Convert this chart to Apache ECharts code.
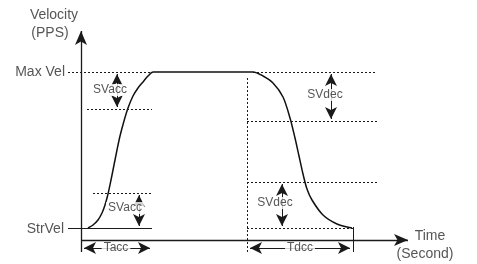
<!DOCTYPE html>
<html>
<head>
<meta charset="utf-8">
<style>
  html, body { margin: 0; padding: 0; background: #fff; }
  #chart { width: 477px; height: 264px; }
</style>
<script src="https://cdn.jsdelivr.net/npm/echarts@6/dist/echarts.min.js"></script>
</head>
<body>
<div id="chart"></div>
<script>
// time axis (t) and velocity axis (v) in diagram units
const strVel = 12
const maxVel = 168
const svAccHigh = 131
const svAccLow = 47
const svDecHigh = 119
const svDecLow = 58
const tAccEnd = 71
const tDecStart = 166
const tDecEnd = 272

// S-curve: acceleration, plateau, deceleration
const accelCurve = [
  [7, 12], [12, 15], [17, 20], [21, 27], [24, 35], [27, 46], [30, 60],
  [33, 75], [36, 90], [39, 104], [43, 119], [47, 132], [52, 144],
  [57, 152], [62, 158], [67, 164], [72, 168]
]
const decelCurve = [
  [172, 168], [182, 164], [192, 157], [202, 143], [209, 122], [214, 102],
  [218, 84], [222, 66], [226, 51], [231, 40], [242, 25], [256, 16], [271, 12]
]

// text labels: [t, v, text]
const labelTexts = [
  [-27, 225, 'Velocity'], [-31, 207, '(PPS)'],
  [-14, 168, 'Max Vel'], [-15, 11, 'StrVel'],
  [29, 150, 'SVacc'], [44, 32, 'SVacc'], [35, -8, 'Tacc'],
  [244, 145, 'SVdec'], [194, 37, 'SVdec'], [219, -8, 'Tdcc'],
  [349, 4, 'Time'], [344, -14, '(Second)']
]

const ink = '#1a1a1a'
const font = "'Liberation Sans', Arial, Helvetica, sans-serif"
const seg = (a, b) => [{coord: a}, {coord: b}]

const chart = echarts.init(document.getElementById('chart'))

const markStyle = (type, width, symbol, size, lines) => ({
  silent: true,
  symbol: symbol,
  symbolSize: size,
  label: {show: false},
  emphasis: {disabled: true},
  itemStyle: {color: ink},
  lineStyle: {color: ink, type: type, width: width},
  data: lines
})

const dummy = (name, markLine) => ({
  name: name,
  type: 'line',
  data: [],
  silent: true,
  markLine: markLine
})

chart.setOption({
  animation: false,
  grid: {left: 68, right: 64, top: 27, bottom: 12},
  xAxis: {type: 'value', min: -13, max: 332, show: false},
  yAxis: {type: 'value', min: -12, max: 213, show: false},
  series: [
    dummy('dotted', markStyle([2, 2], 1, ['none', 'none'], 0, [
      seg([-13, maxVel], [tAccEnd + 1, maxVel]),
      seg([172, maxVel], [296, maxVel]),
      seg([tAccEnd, 160], [tAccEnd, -13]),
      seg([6, svAccHigh], [tAccEnd, svAccHigh]),
      seg([12, svAccLow], [tAccEnd, svAccLow]),
      seg([tDecStart, 162], [tDecStart, -12]),
      seg([tDecStart, svDecHigh], [296, svDecHigh]),
      seg([tDecStart, svDecLow], [297, svDecLow]),
      seg([tDecStart, strVel], [tDecEnd, strVel])
    ])),
    dummy('solid', markStyle('solid', 1, ['none', 'none'], 0, [
      seg([-13, strVel], [tAccEnd, strVel]),
      seg([tDecEnd, 13], [tDecEnd, -12])
    ])),
    dummy('axes', markStyle('solid', 1.3, ['none', 'arrow'], [9, 14], [
      seg([0, -12], [0, 209]),
      seg([0, 0], [327, 0])
    ])),
    dummy('spans', markStyle('solid', 1, ['arrow', 'arrow'], [9, 12], [
      seg([36, maxVel - 2], [36, svAccHigh + 2]),
      seg([58, svAccLow - 2], [58, strVel + 2]),
      seg([250, maxVel - 2], [250, svDecHigh + 2]),
      seg([201, svDecLow - 2], [201, strVel + 2]),
      seg([3, -8], [tAccEnd - 2, -8]),
      seg([tDecStart + 3, -8], [tDecEnd - 3, -8])
    ])),
    {
      name: 'velocity',
      type: 'line',
      data: accelCurve.concat(decelCurve),
      smooth: 0.3,
      showSymbol: false,
      silent: true,
      lineStyle: {color: '#111', width: 1.5}
    },
    {
      name: 'labels',
      type: 'scatter',
      z: 10,
      clip: false,
      silent: true,
      symbolSize: 0,
      data: labelTexts.map(d => ({
        value: [d[0], d[1]],
        name: d[2],
        label: {
          position: (d[2] === 'Max Vel' || d[2] === 'StrVel') ? 'left' : 'inside',
          distance: 0,
          fontSize: /^(SV|T[ad])/.test(d[2]) ? 12 : 14,
          backgroundColor: /^(SV|T[ad])/.test(d[2]) ? '#fff' : 'transparent',
          padding: [0, 2]
        }
      })),
      label: {
        show: true,
        formatter: '{b}',
        color: '#2a2a2a',
        fontFamily: font
      }
    }
  ]
})
</script>
</body>
</html>
